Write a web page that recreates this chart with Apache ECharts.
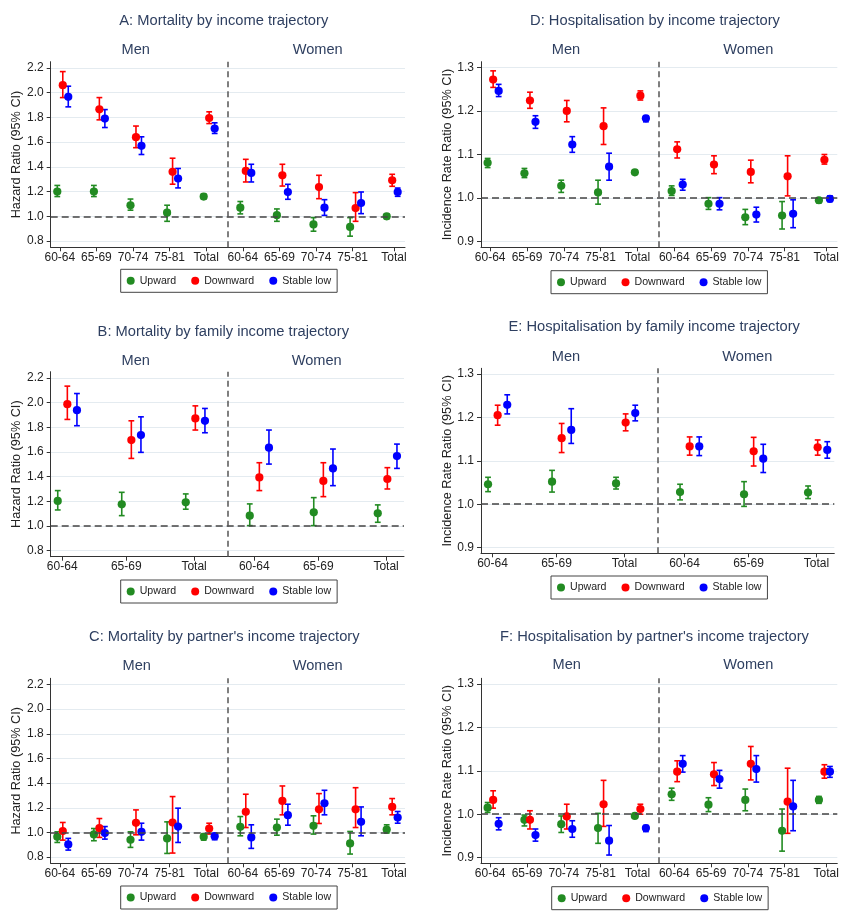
<!DOCTYPE html>
<html><head><meta charset="utf-8">
<script src="https://cdn.jsdelivr.net/npm/echarts@6/dist/echarts.min.js"></script>
<style>html,body{margin:0;padding:0;background:#fff}#c{width:848px;height:915px}</style>
</head><body><div id="c"></div>
<script>
// ---------- categories & labels ----------
const seriesNames = ['Upward', 'Downward', 'Stable low'];
const ageCats = ['60-64', '65-69', '70-74', '75-81', 'Total'];
const famCats = ['60-64', '65-69', 'Total'];
const sexGroups = ['Men', 'Women'];
const hrTicks = [0.8, 1.0, 1.2, 1.4, 1.6, 1.8, 2.0, 2.2];
const irrTicks = [0.9, 1.0, 1.1, 1.2, 1.3];

// ---------- data: [estimate, lower 95% CI, upper 95% CI]; Men categories then Women ----------
// A: Mortality by income trajectory
const A_upward = [[1.20,1.16,1.25],[1.20,1.16,1.25],[1.09,1.05,1.14],[1.03,0.96,1.09],[1.16,1.14,1.18],
                  [1.07,1.02,1.12],[1.01,0.96,1.06],[0.935,0.88,0.99],[0.915,0.84,0.99],[1.00,0.98,1.02]];
const A_downward = [[2.06,1.96,2.17],[1.865,1.78,1.96],[1.64,1.555,1.73],[1.36,1.26,1.47],[1.795,1.75,1.845],
                    [1.367,1.278,1.461],[1.332,1.245,1.421],[1.237,1.143,1.332],[1.067,0.96,1.192],[1.291,1.243,1.34]];
const A_stable = [[1.966,1.885,2.052],[1.79,1.718,1.863],[1.57,1.50,1.643],[1.306,1.23,1.387],[1.71,1.67,1.756],
                  [1.351,1.278,1.421],[1.197,1.138,1.259],[1.07,1.008,1.135],[1.108,1.022,1.197],[1.197,1.162,1.229]];
// B: Mortality by family income trajectory
const B_upward = [[1.202,1.129,1.286],[1.175,1.083,1.272],[1.191,1.135,1.259],
                  [1.083,1.002,1.178],[1.11,1.002,1.229],[1.102,1.029,1.17]];
const B_downward = [[1.987,1.863,2.133],[1.696,1.547,1.852],[1.871,1.777,1.973],
                    [1.393,1.286,1.512],[1.364,1.237,1.512],[1.38,1.299,1.472]];
const B_stable = [[1.938,1.812,2.073],[1.736,1.596,1.884],[1.852,1.755,1.952],
                  [1.634,1.501,1.777],[1.466,1.326,1.623],[1.566,1.466,1.663]];
// C: Mortality by partner's income trajectory
const C_upward = [[0.965,0.919,1.005],[0.984,0.933,1.032],[0.941,0.879,1.005],[0.952,0.83,1.086],[0.965,0.938,0.987],
                  [1.046,0.973,1.129],[1.04,0.978,1.108],[1.054,0.987,1.135],[0.911,0.825,1.008],[1.024,0.995,1.062]];
const C_downward = [[1.011,0.938,1.081],[1.035,0.96,1.113],[1.078,0.981,1.183],[1.081,0.833,1.291],[1.032,0.987,1.075],
                    [1.167,1.04,1.31],[1.256,1.143,1.377],[1.188,1.073,1.315],[1.188,1.04,1.363],[1.207,1.143,1.275]];
const C_stable = [[0.903,0.857,0.952],[0.995,0.946,1.048],[1.005,0.938,1.075],[1.048,0.919,1.197],[0.97,0.941,0.992],
                  [0.96,0.871,1.062],[1.14,1.059,1.229],[1.237,1.143,1.342],[1.086,0.973,1.207],[1.121,1.075,1.17]];
// D: Hospitalisation by income trajectory
const D_upward = [[1.081,1.07,1.091],[1.057,1.047,1.068],[1.028,1.013,1.041],[1.013,0.986,1.041],[1.059,1.055,1.063],
                  [1.016,1.006,1.028],[0.987,0.974,1.001],[0.956,0.939,0.974],[0.96,0.929,0.992],[0.995,0.989,1.0]];
const D_downward = [[1.272,1.254,1.292],[1.224,1.206,1.243],[1.2,1.175,1.224],[1.165,1.123,1.207],[1.235,1.225,1.246],
                    [1.112,1.092,1.129],[1.077,1.056,1.097],[1.06,1.035,1.087],[1.05,1.005,1.097],[1.088,1.078,1.1]];
const D_stable = [[1.246,1.233,1.261],[1.175,1.16,1.189],[1.123,1.105,1.141],[1.072,1.041,1.103],[1.183,1.175,1.189],
                  [1.031,1.018,1.043],[0.987,0.973,1.001],[0.962,0.945,0.979],[0.964,0.932,0.996],[0.998,0.992,1.005]];
// E: Hospitalisation by family income trajectory
const E_upward = [[1.046,1.029,1.062],[1.052,1.028,1.078],[1.048,1.035,1.062],
                  [1.028,1.01,1.046],[1.023,0.995,1.052],[1.027,1.013,1.042]];
const E_downward = [[1.205,1.182,1.228],[1.152,1.119,1.186],[1.188,1.169,1.208],
                    [1.133,1.113,1.155],[1.122,1.088,1.154],[1.131,1.113,1.148]];
const E_stable = [[1.229,1.208,1.252],[1.171,1.14,1.22],[1.21,1.192,1.228],
                  [1.133,1.112,1.155],[1.105,1.073,1.138],[1.125,1.106,1.144]];
// F: Hospitalisation by partner's income trajectory
const F_upward = [[1.015,1.004,1.027],[0.987,0.973,0.998],[0.977,0.958,0.996],[0.968,0.933,1.002],[0.996,0.991,1.001],
                  [1.046,1.032,1.06],[1.022,1.006,1.038],[1.033,1.008,1.058],[0.962,0.915,1.012],[1.033,1.025,1.041]];
const F_downward = [[1.033,1.014,1.054],[0.987,0.966,1.008],[0.995,0.966,1.023],[1.023,0.972,1.078],[1.012,1.0,1.023],
                    [1.098,1.075,1.123],[1.092,1.066,1.119],[1.116,1.079,1.156],[1.029,0.956,1.106],[1.098,1.083,1.114]];
const F_stable = [[0.978,0.964,0.992],[0.952,0.938,0.966],[0.966,0.947,0.985],[0.939,0.906,0.974],[0.968,0.96,0.974],
                  [1.116,1.097,1.135],[1.081,1.06,1.101],[1.104,1.074,1.135],[1.018,0.962,1.078],[1.098,1.085,1.11]];

// ---------- styles / layout ----------
const colors = ['#228B22', '#FF0000', '#0000FF'];
const FONT = '"Liberation Sans", Arial, "DejaVu Sans", sans-serif';
const titleColor = '#2e3f60';
const offsets = [0, 0.15, 0.3];

const panels = [
  {title:'A: Mortality by income trajectory', yName:'Hazard Ratio (95% CI)', cats:ageCats, data:[A_upward,A_downward,A_stable],
   yTicks:hrTicks, yMin:0.75, yMax:2.25, grid:{left:50.7, top:61.7, width:354.3, height:185.6},
   tPos:[223.8,20.7], sexPos:[[135.7,50],[317.7,50]], nameX:16.7, legend:[120.7,269.3]},
  {title:'D: Hospitalisation by income trajectory', yName:'Incidence Rate Ratio (95% CI)', cats:ageCats, data:[D_upward,D_downward,D_stable],
   yTicks:irrTicks, yMin:0.887, yMax:1.313, grid:{left:481, top:61.7, width:356.3, height:185.6},
   tPos:[655,20.7], sexPos:[[566,50],[748.3,50]], nameX:447.5, legend:[551,270.7]},
  {title:'B: Mortality by family income trajectory', yName:'Hazard Ratio (95% CI)', cats:famCats, data:[B_upward,B_downward,B_stable],
   yTicks:hrTicks, yMin:0.75, yMax:2.25, grid:{left:50.7, top:371.7, width:353.3, height:185},
   tPos:[223.3,331.7], sexPos:[[135.7,361],[316.7,361]], nameX:16.7, legend:[120.7,580]},
  {title:'E: Hospitalisation by family income trajectory', yName:'Incidence Rate Ratio (95% CI)', cats:famCats, data:[E_upward,E_downward,E_stable],
   yTicks:irrTicks, yMin:0.887, yMax:1.313, grid:{left:481, top:368.3, width:353.3, height:185},
   tPos:[654.2,326.7], sexPos:[[566,356.7],[747.3,356.7]], nameX:447.7, legend:[551,576]},
  {title:"C: Mortality by partner's income trajectory", yName:'Hazard Ratio (95% CI)', cats:ageCats, data:[C_upward,C_downward,C_stable],
   yTicks:hrTicks, yMin:0.75, yMax:2.25, grid:{left:50.7, top:678.3, width:354.3, height:185},
   tPos:[224.3,636.7], sexPos:[[136.7,666],[317.7,666]], nameX:16.7, legend:[120.7,886]},
  {title:"F: Hospitalisation by partner's income trajectory", yName:'Incidence Rate Ratio (95% CI)', cats:ageCats, data:[F_upward,F_downward,F_stable],
   yTicks:irrTicks, yMin:0.887, yMax:1.313, grid:{left:481, top:678.3, width:356.3, height:185},
   tPos:[654.5,637.3], sexPos:[[566.7,665],[748.3,665]], nameX:447.7, legend:[551.7,886.7]}
];

function renderErr(params, api) {
  const x = api.value(0), lo = api.value(1), hi = api.value(2);
  const p1 = api.coord([x, lo]), p2 = api.coord([x, hi]);
  const w = 2.9;
  const style = {stroke: api.visual('color'), lineWidth: 1.6};
  return {type:'group', children:[
    {type:'line', shape:{x1:p1[0], y1:p1[1], x2:p2[0], y2:p2[1]}, style: style},
    {type:'line', shape:{x1:p1[0]-w, y1:p1[1], x2:p1[0]+w, y2:p1[1]}, style: style},
    {type:'line', shape:{x1:p2[0]-w, y1:p2[1], x2:p2[0]+w, y2:p2[1]}, style: style}
  ]};
}

const option = {animation:false, backgroundColor:'#fff', grid:[], xAxis:[], yAxis:[], series:[], legend:[], graphic:[]};

panels.forEach(function (p, gi) {
  const n = p.cats.length;           // categories per sex
  const total = n * 2;
  const wide = n === 5;
  const xMin = wide ? 0.82 : 0.89, xMax = wide ? 10.5 : 6.41;
  const divider = n + 0.65;
  const tickPos = [], tickLab = [];
  for (let i = 0; i < total; i++) {
    const c = p.cats[i % n];
    let off = 0.07;
    if (c === 'Total') off = wide ? (i === total - 1 ? 0.2 : 0.07) : 0.13;
    tickPos.push(+(i + 1 + off).toFixed(3));
    tickLab.push(c);
  }
  option.grid.push(Object.assign({containLabel:false}, p.grid));
  option.xAxis.push({
    type:'value', gridIndex:gi, min:xMin, max:xMax,
    axisLine:{show:true, onZero:false, lineStyle:{color:'#333', width:1}},
    axisTick:{show:true, length:4, customValues:tickPos, lineStyle:{color:'#333'}},
    axisLabel:{show:true, customValues:tickPos, margin:4, color:'#222', fontFamily:FONT, fontSize:12,
      formatter:function (v) { const k = tickPos.findIndex(function (t) { return Math.abs(t - v) < 1e-6; }); return k >= 0 ? tickLab[k] : ''; }},
    splitLine:{show:false}
  });
  option.yAxis.push({
    type:'value', gridIndex:gi, min:p.yMin, max:p.yMax,
    axisLine:{show:true, lineStyle:{color:'#333', width:1}},
    axisTick:{show:true, length:4, customValues:p.yTicks, lineStyle:{color:'#333'}},
    axisLabel:{show:true, customValues:p.yTicks, margin:7, color:'#222', fontFamily:FONT, fontSize:12,
      formatter:function (v) { return v.toFixed(1); }},
    splitLine:{show:true, lineStyle:{color:'#e4ebf0', width:1}}
  });
  seriesNames.forEach(function (name, si) {
    const pts = p.data[si];
    const errData = pts.map(function (d, i) { return [i + 1 + offsets[si], d[1], d[2]]; });
    const ptData = pts.map(function (d, i) { return [i + 1 + offsets[si], d[0]]; });
    option.series.push({
      type:'custom', name:name + ' CI', xAxisIndex:gi, yAxisIndex:gi, renderItem:renderErr,
      itemStyle:{color:colors[si]}, encode:{x:0, y:[1, 2]}, data:errData, z:2, silent:true
    });
    const s = {
      type:'scatter', name:name, xAxisIndex:gi, yAxisIndex:gi, symbol:'circle', symbolSize:8.2,
      itemStyle:{color:colors[si], opacity:1}, data:ptData, z:3, silent:true
    };
    if (si === 0) {
      s.markLine = {silent:true, symbol:'none', label:{show:false}, animation:false,
        lineStyle:{color:'#444', width:1.5, type:[7, 4]},
        data:[{yAxis:1}, {xAxis:divider, lineStyle:{color:'#555', width:1.5, type:[6, 4]}}]};
    }
    option.series.push(s);
  });
  option.legend.push({
    data:seriesNames.map(function (nm) { return {name:nm, icon:'circle'}; }),
    left:p.legend[0], top:p.legend[1], orient:'horizontal',
    itemWidth:8, itemHeight:8, itemGap:15, padding:[5, 6, 5, 6],
    borderColor:'#444', borderWidth:1, borderRadius:0, selectedMode:false,
    textStyle:{fontFamily:FONT, fontSize:10.6, color:'#222', lineHeight:13}
  });
  option.graphic.push({type:'text', x:p.tPos[0], y:p.tPos[1], silent:true,
    style:{text:p.title, fill:titleColor, font:'14.7px ' + FONT, textAlign:'center', textVerticalAlign:'middle'}});
  sexGroups.forEach(function (sx, k) {
    option.graphic.push({type:'text', x:p.sexPos[k][0], y:p.sexPos[k][1], silent:true,
      style:{text:sx, fill:titleColor, font:'14.6px ' + FONT, textAlign:'center', textVerticalAlign:'middle'}});
  });
  option.graphic.push({type:'text', x:p.nameX, y:p.grid.top + p.grid.height / 2, rotation:Math.PI / 2, silent:true,
    style:{text:p.yName, fill:'#222', font:'12.7px ' + FONT, textAlign:'center', textVerticalAlign:'middle'}});
});

const chart = echarts.init(document.getElementById('c'), null, {renderer:'canvas'});
chart.setOption(option);
</script>
</body></html>
